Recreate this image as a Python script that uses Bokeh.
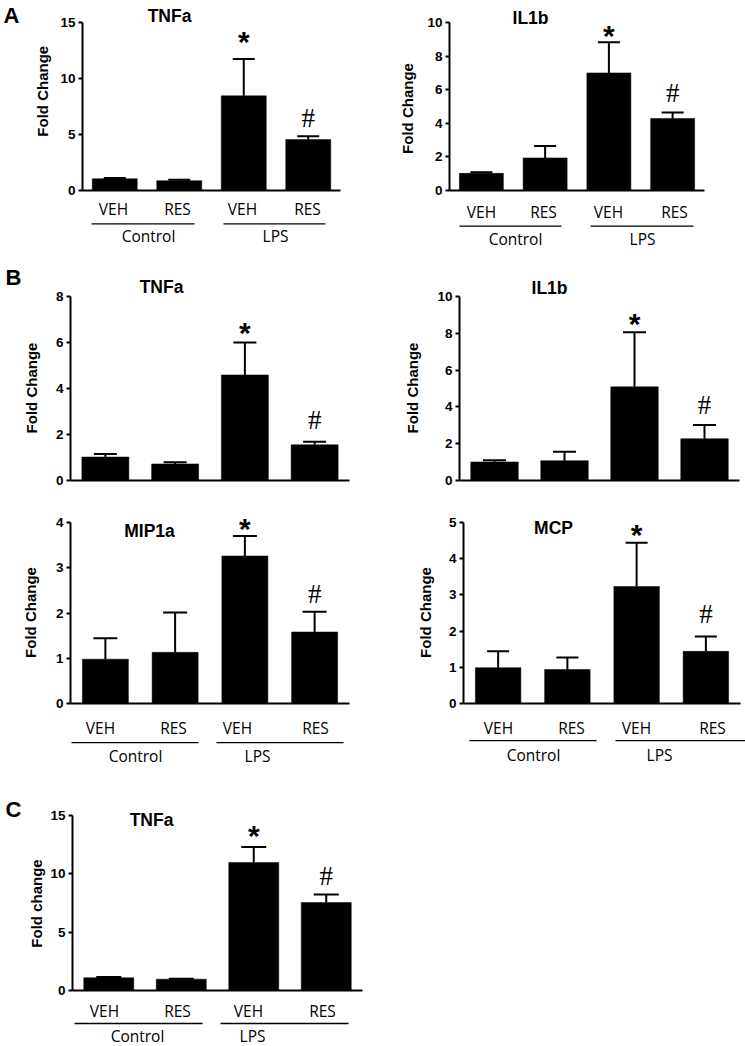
import math
from bokeh.plotting import figure
from bokeh.models import Range1d, LinearAxis, FixedTicker, ColumnDataSource, Whisker, TeeHead
from bokeh.layouts import column, row
from bokeh.embed import file_html
from bokeh.resources import INLINE
from bokeh.core.properties import value

# ---------------- data ----------------
treatments = ["VEH", "RES", "VEH", "RES"]
conditions = ["Control", "LPS"]
marks = ["", "", "*", "#"]

a_tnfa_mean = [1.05, 0.88, 8.45, 4.55]
a_tnfa_sem = [0.07, 0.07, 3.30, 0.30]
a_il1b_mean = [1.02, 1.94, 7.00, 4.29]
a_il1b_sem = [0.06, 0.71, 1.82, 0.36]
b_tnfa_mean = [1.02, 0.72, 4.59, 1.55]
b_tnfa_sem = [0.13, 0.07, 1.41, 0.13]
b_il1b_mean = [1.01, 1.08, 5.09, 2.27]
b_il1b_sem = [0.09, 0.48, 2.97, 0.75]
b_mip1a_mean = [0.98, 1.13, 3.26, 1.58]
b_mip1a_sem = [0.46, 0.88, 0.44, 0.45]
b_mcp_mean = [0.99, 0.94, 3.23, 1.44]
b_mcp_sem = [0.45, 0.33, 1.21, 0.41]
c_tnfa_mean = [1.09, 0.97, 10.97, 7.54]
c_tnfa_sem = [0.06, 0.04, 1.32, 0.69]

ticks_15 = [0, 5, 10, 15]
ticks_10 = [0, 2, 4, 6, 8, 10]
ticks_8 = [0, 2, 4, 6, 8]
ticks_5 = [0, 1, 2, 3, 4, 5]
ticks_4 = [0, 1, 2, 3, 4]

# ---------------- layout / style ----------------
S = 1.0
BOLD = value("Liberation Sans")
LAB = value("Open Sans")
SERIF = value("Liberation Serif")
F_TITLE, F_TICK, F_YLAB, F_LETTER, F_CAT = 17.5, 13.5, 15, 22, 15.5
F_STAR, F_HASH = 30, 27
STAR_H, HASH_H = 12, 18


def fs(px):
    return "%.1fpx" % (px * S)


def make_panel(means, sems, ticks, g):
    W, H = g["W"], g["H"]
    topval = ticks[-1]
    cw, ch = round(W * S), round(H * S)
    fl, fr = round(g["ax"] * S), round(g["end"] * S)
    ft, fb = round(g["top"] * S), round(g["zero"] * S)

    def dx(px):
        return -0.5 + (px * S - fl) / (fr - fl) * 4.0

    def dy(py):
        return (fb - py * S) / (fb - ft) * topval

    def py_of(v):
        return (fb - v * (fb - ft) / topval) / S

    p = figure(width=cw, height=ch, title=None,
               x_range=Range1d(-0.5, 3.5), y_range=Range1d(0, topval),
               x_axis_type=None, y_axis_type=None, toolbar_location=None,
               output_backend="svg", outline_line_color=None,
               min_border_left=fl, min_border_right=cw - fr,
               min_border_top=ft, min_border_bottom=ch - fb)

    idx = list(range(len(means)))
    tops = [m + s for m, s in zip(means, sems)]
    bw = g["bar_w"] * S / (fr - fl) * 4.0

    # bars
    p.vbar(x=idx, top=means, bottom=0, width=bw,
           fill_color="black", line_color="black", line_width=0.5)

    # upper error bars
    src = ColumnDataSource(dict(x=idx, lower=means, upper=tops))
    p.add_layout(Whisker(base="x", lower="lower", upper="upper", source=src,
                         lower_head=None, line_width=2 * S, line_color="black",
                         level="overlay",
                         upper_head=TeeHead(size=g["cap"] * S, line_width=2 * S,
                                            line_color="black")))

    # y axis
    yax = LinearAxis(ticker=FixedTicker(ticks=ticks, minor_ticks=[]))
    yax.axis_line_width = 2 * S
    yax.major_tick_line_width = 2 * S
    yax.major_tick_out = round(4 * S)
    yax.major_tick_in = 0
    yax.minor_tick_out = 0
    yax.major_label_standoff = 3
    yax.major_label_text_font = "Liberation Sans"
    yax.major_label_text_font_style = "bold"
    yax.major_label_text_font_size = fs(F_TICK)
    yax.major_label_text_color = "black"
    p.add_layout(yax, "left")

    # x axis (baseline only)
    xax = LinearAxis(ticker=FixedTicker(ticks=[], minor_ticks=[]))
    xax.axis_line_width = 2 * S
    xax.major_tick_out = 0
    xax.minor_tick_out = 0
    xax.major_label_text_font_size = "0px"
    p.add_layout(xax, "below")

    txt = dict(level="overlay", text_color="black", text_baseline="middle")

    # title
    tx, ty = g["title_xy"]
    p.text(x=[dx(tx)], y=[dy(ty)], text=[g["title"]], text_font=BOLD,
           text_font_style="bold", text_font_size=fs(F_TITLE),
           text_align="center", **txt)

    # y label
    lx, ly = g["ylabel_xy"]
    p.text(x=[dx(lx)], y=[dy(ly)], text=[g["ylabel"]], angle=math.pi / 2,
           text_font=BOLD, text_font_style="bold", text_font_size=fs(F_YLAB),
           text_align="center", **txt)

    # panel letter
    if g.get("letter"):
        qx, qy = g["letter_xy"]
        p.text(x=[dx(qx)], y=[dy(qy)], text=[g["letter"]], text_font=BOLD,
               text_font_style="bold", text_font_size=fs(F_LETTER),
               text_align="left", **txt)

    # significance marks
    for i, m in enumerate(marks):
        if not m:
            continue
        top_px = py_of(tops[i])
        if m == "*":
            cy = top_px - g["star_gap"] - STAR_H / 2 + 0.22 * F_STAR
            p.text(x=[i], y=[dy(cy)], text=[m], text_font=BOLD,
                   text_font_style="bold", text_font_size=fs(F_STAR),
                   text_align="center", **txt)
        else:
            cy = top_px - g["hash_gap"] - HASH_H / 2
            p.text(x=[i], y=[dy(cy)], text=[m], text_font=SERIF,
                   text_font_size=fs(F_HASH), text_align="center", **txt)

    # category labels
    sub = g.get("sub")
    if sub:
        p.text(x=[dx(v) for v in sub["sub_x"]], y=[dy(sub["sub_y"])] * 4,
               text=treatments, text_font=LAB, text_font_size=fs(F_CAT),
               text_align="center", **txt)
        p.segment(x0=[dx(a) for a, b in sub["lines"]], x1=[dx(b) for a, b in sub["lines"]],
                  y0=[dy(sub["line_y"])] * 2, y1=[dy(sub["line_y"])] * 2,
                  line_color="black", line_width=1.3 * S, level="overlay")
        p.text(x=[dx(v) for v in sub["grp_x"]], y=[dy(sub["grp_y"])] * 2,
               text=conditions, text_font=LAB, text_font_size=fs(F_CAT),
               text_align="center", **txt)
    return p


g_a1 = dict(W=372, H=262, ax=82, end=340, zero=193, top=22,
            title="TNFa", title_xy=(169, 15.5), ylabel="Fold Change", ylabel_xy=(42, 92),
            letter="A", letter_xy=(3, 15), bar_w=45, cap=22, star_gap=18, hash_gap=10,
            sub=dict(sub_x=[113, 177, 242, 307], sub_y=212, line_y=227,
                     lines=[(91, 194), (223, 325)], grp_x=[148, 275], grp_y=239.5))
g_a2 = dict(W=373, H=262, ax=77, end=332, zero=190, top=20,
            title="IL1b", title_xy=(158, 15.5), ylabel="Fold Change", ylabel_xy=(35, 107),
            bar_w=44, cap=22, star_gap=8, hash_gap=11,
            sub=dict(sub_x=[109, 171, 236, 302], sub_y=212, line_y=226,
                     lines=[(87, 189), (218, 321)], grp_x=[143, 270], grp_y=239.5))
g_b1 = dict(W=372, H=238, ax=70, end=349, zero=219, top=34,
            title="TNFa", title_xy=(161, 24.5), ylabel="Fold Change", ylabel_xy=(31, 126),
            letter="B", letter_xy=(5, 14.5), bar_w=47, cap=23, star_gap=11, hash_gap=13)
g_b2 = dict(W=373, H=238, ax=87, end=367, zero=218, top=33,
            title="IL1b", title_xy=(177, 24.5), ylabel="Fold Change", ylabel_xy=(40, 125),
            bar_w=47.5, cap=23, star_gap=9, hash_gap=11)
g_b3 = dict(W=372, H=270, ax=70, end=349, zero=203, top=18,
            title="MIP1a", title_xy=(149, 26.5), ylabel="Fold Change", ylabel_xy=(30, 110),
            bar_w=46, cap=24, star_gap=8, hash_gap=9,
            sub=dict(sub_x=[100, 173, 237, 315], sub_y=228, line_y=243,
                     lines=[(71, 198), (216, 343)], grp_x=[135, 257], grp_y=256.5))
g_b4 = dict(W=373, H=270, ax=91, end=368, zero=207, top=22,
            title="MCP", title_xy=(181, 28), ylabel="Fold Change", ylabel_xy=(53, 114),
            bar_w=45.5, cap=22, star_gap=9, hash_gap=14,
            sub=dict(sub_x=[126, 199, 264, 340], sub_y=232, line_y=245,
                     lines=[(97, 224), (243, 373)], grp_x=[161, 287], grp_y=259.5))
g_c = dict(W=372, H=276, ax=72, end=362, zero=220, top=45,
           title="TNFa", title_xy=(151, 49.5), ylabel="Fold change", ylabel_xy=(36, 133),
           letter="C", letter_xy=(5, 38.5), bar_w=50, cap=25, star_gap=12, hash_gap=9,
           sub=dict(sub_x=[104, 177, 248, 322], sub_y=240, line_y=253,
                    lines=[(74, 202), (220, 348)], grp_x=[137, 252], grp_y=265.5))

p1 = make_panel(a_tnfa_mean, a_tnfa_sem, ticks_15, g_a1)
p2 = make_panel(a_il1b_mean, a_il1b_sem, ticks_10, g_a2)
p3 = make_panel(b_tnfa_mean, b_tnfa_sem, ticks_8, g_b1)
p4 = make_panel(b_il1b_mean, b_il1b_sem, ticks_10, g_b2)
p5 = make_panel(b_mip1a_mean, b_mip1a_sem, ticks_4, g_b3)
p6 = make_panel(b_mcp_mean, b_mcp_sem, ticks_5, g_b4)
p7 = make_panel(c_tnfa_mean, c_tnfa_sem, ticks_15, g_c)

layout = column(row(p1, p2), row(p3, p4), row(p5, p6), row(p7))
open("out.html", "w").write(file_html(layout, INLINE, title="Cytokine fold change"))
